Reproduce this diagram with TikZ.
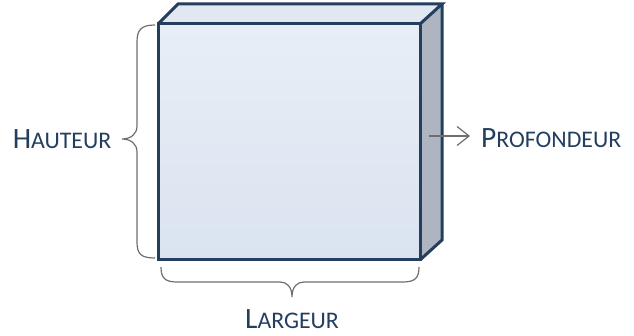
\documentclass[tikz,border=0pt]{standalone}
\usepackage{fontspec}
\setmainfont{Carlito}
\usetikzlibrary{arrows.meta}
\definecolor{navy}{RGB}{36,62,96}
\definecolor{frontTop}{RGB}{232,238,246}
\definecolor{frontBot}{RGB}{218,227,240}
\definecolor{topface}{RGB}{225,232,242}
\definecolor{sideface}{RGB}{174,181,192}
\definecolor{bracegray}{RGB}{110,110,110}
\newcommand\fsc[2]{{\fontsize{29.5}{29.5}\selectfont #1}{\fontsize{23.8}{23.8}\selectfont #2}}
\tikzset{
  edge/.style={draw=navy, line width=3pt},
  bracestyle/.style={draw=bracegray, line width=1.2pt},
  lbl/.style={text=navy, inner sep=0pt, anchor=base}
}
\begin{document}
\begin{tikzpicture}[x=1pt,y=-1pt]
\useasboundingbox (0,0) rectangle (634,336);
% cube corners
\coordinate (ftl) at (158,24);
\coordinate (ftr) at (420,24);
\coordinate (fbl) at (158,260);
\coordinate (fbr) at (420,260);
\coordinate (btl) at (178,4);
\coordinate (btr) at (442,4);
\coordinate (bbr) at (442,240);
% faces
\fill[top color=frontTop, bottom color=frontBot] (ftl) rectangle (fbr);
\fill[topface] (ftl) -- (btl) -- (btr) -- (ftr) -- cycle;
\fill[sideface] (ftr) -- (btr) -- (bbr) -- (fbr) -- cycle;
\draw[edge] (ftl) rectangle (fbr);
\draw[edge] (ftl) -- (btl) -- (btr) -- (ftr);
\draw[edge] (btr) -- (bbr) -- (fbr);
% left brace
\coordinate (lb1) at (155,25);
\coordinate (lb2) at (155,258);
\coordinate (ltip) at (122,139);
\draw[bracestyle] (lb1) .. controls (141,25) and (137,30) .. (137,42)
  -- (137,126) .. controls (137,134) and (131,139) .. (ltip)
  .. controls (131,139) and (137,144) .. (137,152)
  -- (137,242) .. controls (137,254) and (141,258) .. (lb2);
% bottom brace
\coordinate (bb1) at (161,267);
\coordinate (bb2) at (419,267);
\coordinate (btip) at (292,297);
\draw[bracestyle] (bb1) .. controls (161,278) and (165,282) .. (177,282)
  -- (280,282) .. controls (287,282) and (292,287) .. (btip)
  .. controls (292,287) and (297,282) .. (304,282)
  -- (403,282) .. controls (415,282) and (419,278) .. (bb2);
% labels
\node[lbl] (hauteur) at (62,149) {\fsc{H}{AUTEUR}};
\node[lbl] (largeur) at (292,328) {\fsc{L}{ARGEUR}};
\node[lbl, anchor=base west] (prof) at (481,148) {\fsc{P}{ROFONDEUR}};
% arrow
\coordinate (astart) at (429,136);
\coordinate (aend) at (470,136);
\draw[bracestyle, -{Straight Barb[length=12pt,width=19pt]}] (astart) -- (aend);
\end{tikzpicture}
\end{document}
